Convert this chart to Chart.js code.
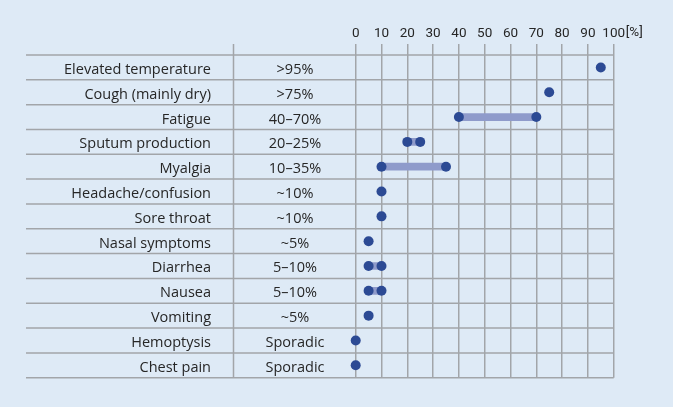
<!DOCTYPE html>
<html><head><meta charset="utf-8">
<script src="https://cdn.jsdelivr.net/npm/chart.js@4.4.1/dist/chart.umd.min.js"></script>
<style>html,body{margin:0;padding:0;background:#deeaf6;}#wrap{width:673px;height:407px;}</style>
</head><body><div id="wrap"><canvas id="c" width="673" height="407"></canvas></div>
<script>
const symptoms = ["Elevated temperature","Cough (mainly dry)","Fatigue","Sputum production","Myalgia","Headache/confusion","Sore throat","Nasal symptoms","Diarrhea","Nausea","Vomiting","Hemoptysis","Chest pain"];
const frequencyLabels = [">95%",">75%","40\u201370%","20\u201325%","10\u201335%","~10%","~10%","~5%","5\u201310%","5\u201310%","~5%","Sporadic","Sporadic"];
const lowValues  = [95,75,40,20,10,10,10,5,5,5,5,0,0];
const highValues = [95,75,70,25,35,10,10,5,10,10,5,0,0];
const xTickValues = [0,10,20,30,40,50,60,70,80,90,100];
const unitLabel = "[%]";

const FONT = "'Open Sans'";
const TICKFONT = "Roboto";
const TEXT = "#262626";
const GRID = "#a2a5a9";

const rangeData = symptoms.map((s,i)=> lowValues[i]!==highValues[i] ? [lowValues[i],highValues[i]] : null);
const pointData = [];
symptoms.forEach((s,i)=>{
  pointData.push({x: lowValues[i], y: s});
  if (highValues[i]!==lowValues[i]) pointData.push({x: highValues[i], y: s});
});

const tablePlugin = {
  id: 'table',
  beforeDraw(chart){
    const ctx = chart.ctx, ys = chart.scales.y, ca = chart.chartArea;
    ctx.save();
    ctx.fillStyle = '#deeaf6';
    ctx.fillRect(0,0,chart.width,chart.height);
    ctx.strokeStyle = GRID; ctx.lineWidth = 1.5;
    for (let i=0;i<=symptoms.length;i++){
      const y = ys.getPixelForValue(i-0.5);
      ctx.beginPath(); ctx.moveTo(26,y); ctx.lineTo(ca.right,y); ctx.stroke();
    }
    ctx.beginPath(); ctx.moveTo(233.5, ca.top-11); ctx.lineTo(233.5, ca.bottom); ctx.stroke();
    ctx.restore();
  },
  afterDraw(chart){
    const ctx = chart.ctx, ys = chart.scales.y, xs = chart.scales.x;
    ctx.save();
    ctx.fillStyle = TEXT;
    ctx.font = "14.5px " + FONT;
    ctx.textBaseline = 'alphabetic';
    symptoms.forEach((s,i)=>{
      const y = ys.getPixelForValue(i)+6.5;
      ctx.textAlign = 'right'; ctx.fillText(s, 211, y);
      ctx.textAlign = 'center'; ctx.fillText(frequencyLabels[i], 295, y);
    });
    ctx.font = "13.5px " + TICKFONT;
    ctx.textAlign = 'left';
    ctx.textBaseline = 'middle';
    ctx.fillText(unitLabel, xs.getPixelForValue(100)+12, 32.5);
    ctx.restore();
  }
};

new Chart(document.getElementById('c'), {
  data: {
    labels: symptoms,
    datasets: [
      { type:'bar', data: rangeData, backgroundColor:'#8f9bcb', barThickness:7, borderWidth:0, order:2, borderSkipped:false },
      { type:'line', data: pointData, showLine:false, pointRadius:5, pointBackgroundColor:'#2c4a94', pointBorderWidth:0, order:1, clip:false }
    ]
  },
  options: {
    indexAxis: 'y',
    responsive: false,
    animation: false,
    events: [],
    devicePixelRatio: 1,
    layout: { padding: { left: 355.7, right: 59.3, top: 20, bottom: 29.3 } },
    plugins: { legend:{display:false}, tooltip:{enabled:false} },
    scales: {
      x: {
        type:'linear', position:'top', min:0, max:100,
        afterBuildTicks(scale){ scale.ticks = xTickValues.map(v=>({value:v})); },
        afterFit(scale){ scale.height = 35; },
        ticks: { color: TEXT, font:{family:TICKFONT, size:13.5}, padding: 2, maxRotation:0, autoSkip:false },
        grid: { color: GRID, lineWidth:1.5, tickLength:11, drawTicks:true },
        border: { display:false }
      },
      y: { type:'category', display:false, offset:true }
    }
  },
  plugins: [tablePlugin]
});
</script></body></html>
